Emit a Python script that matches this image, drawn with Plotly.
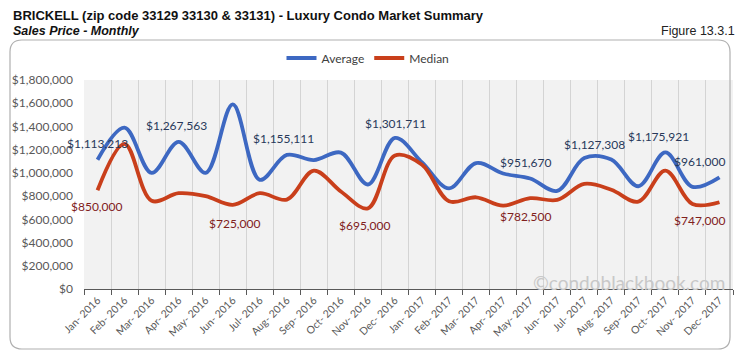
import plotly.graph_objects as go

months = ["Jan- 2016", "Feb- 2016", "Mar- 2016", "Apr- 2016", "May- 2016", "Jun- 2016",
          "Jul- 2016", "Aug- 2016", "Sep- 2016", "Oct- 2016", "Nov- 2016", "Dec- 2016",
          "Jan- 2017", "Feb- 2017", "Mar- 2017", "Apr- 2017", "May- 2017", "Jun- 2017",
          "Jul- 2017", "Aug- 2017", "Sep- 2017", "Oct- 2017", "Nov- 2017", "Dec- 2017"]
average = [1113213, 1390000, 1000000, 1267563, 1000000, 1590000, 940000, 1155111,
           1110000, 1175000, 900000, 1301711, 1090000, 867000, 1085000, 995000,
           951670, 845000, 1127308, 1115000, 885000, 1175921, 880000, 961000]
median = [850000, 1250000, 760000, 825000, 800000, 725000, 825000, 770000,
          1020000, 840000, 695000, 1150000, 1070000, 755000, 790000, 718000,
          782500, 767000, 905000, 855000, 752000, 1020000, 732000, 747000]

# labelled points: (index, xshift, yshift)
avg_labels = [(0, 0, 16), (3, -2, 16), (7, -3, 16), (11, 1, 14), (16, -5, 16),
              (18, 10, 14), (21, -7, 16), (23, -20, 16)]
med_labels = [(0, -1, -16), (5, 2, -19), (10, -3, -17), (16, -5, -18), (23, -20, -18)]

W, H = 746, 357
L, R, T, B = 84, 13, 80, 68
PW, PH = W - L - R, H - T - B

def px(x):
    return (x - L) / PW

def py(y):
    return (H - B - y) / PH

BLUE = "#3d68c2"
RED = "#c93f1b"
FONT = "Lato"
TFONT = "Liberation Sans"

fig = go.Figure()
fig.add_trace(go.Scatter(x=months, y=average, name="Average", mode="lines",
                         line=dict(color=BLUE, width=3.8, shape="spline", smoothing=1)))
fig.add_trace(go.Scatter(x=months, y=median, name="Median", mode="lines",
                         line=dict(color=RED, width=3.8, shape="spline", smoothing=1)))

ann = []
for i, xs, ys in avg_labels:
    ann.append(dict(x=months[i], y=average[i], xref="x", yref="y", text=f"${average[i]:,}",
                    showarrow=False, xshift=xs, yshift=ys,
                    font=dict(family=FONT, size=12, color="#28395a")))
for i, xs, ys in med_labels:
    ann.append(dict(x=months[i], y=median[i], xref="x", yref="y", text=f"${median[i]:,}",
                    showarrow=False, xshift=xs, yshift=ys,
                    font=dict(family=FONT, size=12, color="#80201c")))

ann.append(dict(x=px(11), y=py(15), xref="paper", yref="paper", xanchor="left", yanchor="middle",
                text="<b>BRICKELL (zip code 33129 33130 &amp; 33131) - Luxury Condo Market Summary</b>",
                showarrow=False, font=dict(family=TFONT, size=13, color="#111111")))
ann.append(dict(x=px(11), y=py(31), xref="paper", yref="paper", xanchor="left", yanchor="middle",
                text="<b><i>Sales Price - Monthly</i></b>",
                showarrow=False, font=dict(family=TFONT, size=12.5, color="#111111")))
ann.append(dict(x=px(737), y=py(31), xref="paper", yref="paper", xanchor="right", yanchor="middle",
                text="Figure 13.3.1",
                showarrow=False, font=dict(family=TFONT, size=12.5, color="#222222")))
ann.append(dict(x=px(727), y=py(282), xref="paper", yref="paper", xanchor="right", yanchor="middle",
                text="©condoblackbook.com", showarrow=False,
                font=dict(family=FONT, size=19, color="#c8c8c8")))

# rounded frame
x0, x1, y0, y1, r = 10, 730, 40, 349, 12
path = (f"M {px(x0 + r)},{py(y0)} L {px(x1 - r)},{py(y0)} Q {px(x1)},{py(y0)} {px(x1)},{py(y0 + r)} "
        f"L {px(x1)},{py(y1 - r)} Q {px(x1)},{py(y1)} {px(x1 - r)},{py(y1)} "
        f"L {px(x0 + r)},{py(y1)} Q {px(x0)},{py(y1)} {px(x0)},{py(y1 - r)} "
        f"L {px(x0)},{py(y0 + r)} Q {px(x0)},{py(y0)} {px(x0 + r)},{py(y0)} Z")

fig.update_layout(
    width=W, height=H,
    margin=dict(l=L, r=R, t=T, b=B),
    paper_bgcolor="white",
    plot_bgcolor="#f2f2f2",
    showlegend=True,
    legend=dict(orientation="h", x=px(368), xanchor="center", y=py(58), yanchor="middle",
                font=dict(family=FONT, size=12, color="#404040"), bgcolor="rgba(0,0,0,0)",
                itemwidth=30, tracegroupgap=0),
    annotations=ann,
    shapes=[dict(type="path", path=path, xref="paper", yref="paper",
                 line=dict(color="#b0b0b0", width=1.2), layer="below")],
    xaxis=dict(type="category", tickson="boundaries", showgrid=True, gridcolor="#d4d4d4", gridwidth=1,
               showline=True, linecolor="#595959", linewidth=1.2, ticks="outside", ticklen=5,
               tickcolor="#595959", tickangle=-45, automargin=False,
               tickfont=dict(family=FONT, size=10.5, color="#595959"),
               range=[-0.5, 23.5], fixedrange=True),
    yaxis=dict(range=[0, 1800000], dtick=200000, tickprefix="$", tickformat=",.0f",
               showgrid=False, zeroline=False, showline=False, ticks="", automargin=False,
               ticklabelstandoff=10,
               tickfont=dict(family=FONT, size=12, color="#595959"), fixedrange=True),
)

fig.write_html("out.html", config={"displayModeBar": False},
               post_script="document.body.style.margin='0';document.body.style.overflow='hidden';")
